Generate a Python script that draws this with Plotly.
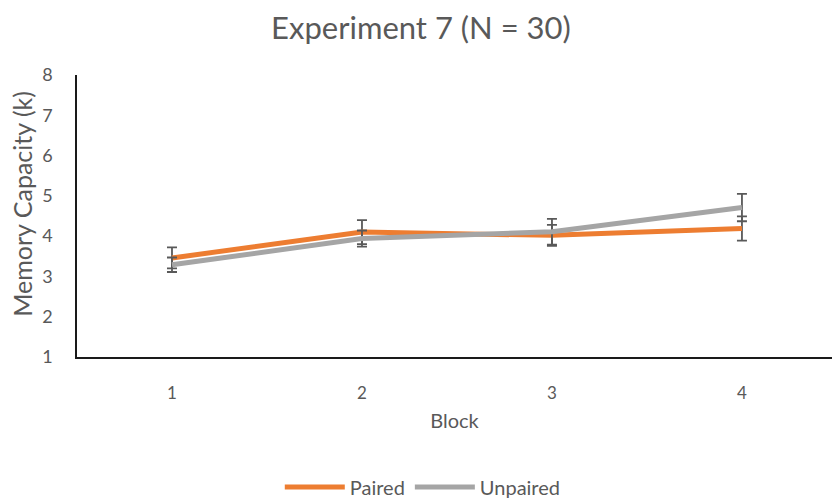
import plotly.graph_objects as go

blocks = [1, 2, 3, 4]
paired = [3.46, 4.10, 4.02, 4.19]
paired_err = [0.26, 0.30, 0.26, 0.30]
unpaired = [3.29, 3.94, 4.11, 4.71]
unpaired_err = [0.18, 0.20, 0.32, 0.34]
y_ticks = [1, 2, 3, 4, 5, 6, 7, 8]

FONT = "Lato"
GREY_TXT = "#595959"

fig = go.Figure()
fig.add_trace(go.Scatter(
    x=blocks, y=paired, name="Paired", mode="lines",
    line=dict(color="#ED7D31", width=5),
    error_y=dict(type="data", array=paired_err, visible=True,
                 color="#595959", thickness=1.8, width=5),
))
fig.add_trace(go.Scatter(
    x=blocks, y=unpaired, name="Unpaired", mode="lines",
    line=dict(color="#A5A5A5", width=5),
    error_y=dict(type="data", array=unpaired_err, visible=True,
                 color="#595959", thickness=1.8, width=5),
))

fig.update_layout(
    width=832, height=498,
    margin=dict(l=77, r=0, t=75, b=141, autoexpand=False),
    paper_bgcolor="white", plot_bgcolor="white",
    font=dict(family=FONT, color=GREY_TXT),
    title=dict(text="Experiment 7 (N = 30)", x=0.506, xanchor="center",
               yref="container", y=1 - 28 / 498, yanchor="middle",
               font=dict(family=FONT, size=31, color=GREY_TXT)),
    xaxis=dict(range=[0.5, 4.474], tickvals=blocks, ticktext=[str(b) for b in blocks],
               showgrid=False, zeroline=False, showline=True, automargin=False,
               linecolor="#1a1a1a", linewidth=1.5, ticks="", ticklabelstandoff=20,
               tickfont=dict(size=17, color=GREY_TXT),
               title=dict(text="Block", font=dict(size=20, color=GREY_TXT), standoff=12)),
    yaxis=dict(range=[1, 8], tickvals=y_ticks,
               showgrid=False, zeroline=False, showline=True, automargin=False,
               linecolor="#1a1a1a", linewidth=1.5, ticks="", ticklabelstandoff=19,
               tickfont=dict(size=18, color=GREY_TXT)),
    annotations=[dict(text="Memory Capacity (k)", textangle=-90,
                      xref="paper", yref="paper", x=-0.073, y=0.543,
                      xanchor="center", yanchor="middle", showarrow=False,
                      font=dict(family=FONT, size=25, color=GREY_TXT))],
    legend=dict(orientation="h", x=0.458, xanchor="center", y=-0.461, yanchor="middle",
                font=dict(size=20, color=GREY_TXT), itemwidth=60),
    showlegend=True,
)

fig.write_html("out.html", config={"displayModeBar": False},
               post_script="document.body.style.margin='0px';")
